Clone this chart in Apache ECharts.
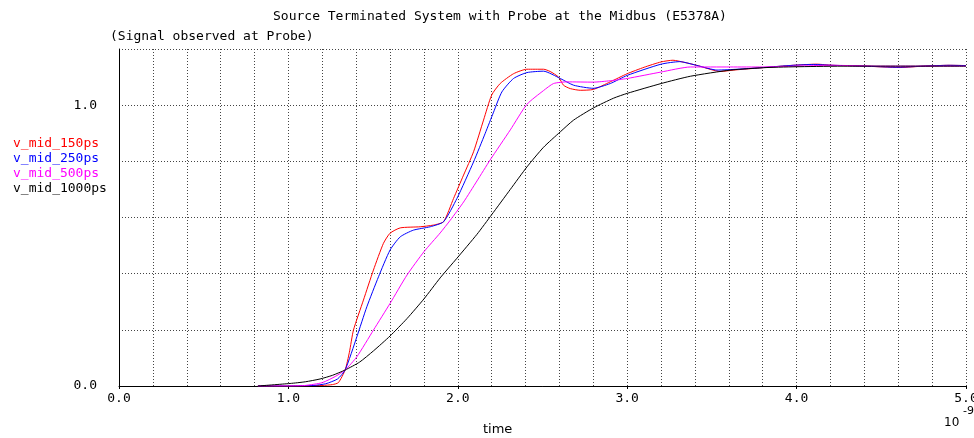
<!DOCTYPE html>
<html>
<head>
<meta charset="utf-8">
<script src="https://cdn.jsdelivr.net/npm/echarts@6/dist/echarts.min.js"></script>
<style>html,body{margin:0;padding:0;background:#fff}#c{width:974px;height:438px}</style>
</head>
<body>
<div id="c"></div>
<script>
// Data (time in ns, voltage)
var seriesNames = ['v_mid_150ps', 'v_mid_250ps', 'v_mid_500ps', 'v_mid_1000ps'];
var seriesColors = ['#ff0000', '#0000ff', '#ff00ff', '#000000'];

var t150 = [0.82,1.0,1.2,1.26,1.295,1.335,1.36,1.384,1.443,1.502,1.561,1.60,1.66,1.778,1.856,1.916,1.975,2.034,2.093,2.152,2.20,2.25,2.329,2.408,2.506,2.545,2.595,2.624,2.664,2.723,2.80,2.90,3.0,3.1,3.2,3.27,3.34,3.41,3.55,3.63,3.727,3.85,3.98,4.12,4.21,4.4,4.61,4.75,4.9,5.0];
var v150 = [0,0,0.002,0.005,0.012,0.057,0.12,0.199,0.306,0.413,0.508,0.544,0.563,0.567,0.573,0.585,0.668,0.751,0.834,0.947,1.036,1.077,1.112,1.128,1.128,1.12,1.10,1.071,1.059,1.053,1.056,1.083,1.112,1.135,1.154,1.16,1.152,1.142,1.12,1.125,1.13,1.136,1.142,1.146,1.142,1.139,1.134,1.139,1.142,1.141];

var t250 = [0.82,1.0,1.15,1.22,1.29,1.335,1.404,1.463,1.532,1.60,1.66,1.738,1.837,1.916,1.995,2.093,2.162,2.211,2.26,2.329,2.408,2.506,2.605,2.684,2.80,2.90,3.0,3.2,3.31,3.42,3.53,3.65,3.8,3.98,4.1,4.21,4.4,4.6,4.75,4.9,5.0];
var v250 = [0,0,0.002,0.008,0.025,0.057,0.175,0.282,0.389,0.484,0.531,0.555,0.567,0.585,0.668,0.798,0.90,0.975,1.047,1.095,1.116,1.121,1.095,1.071,1.06,1.077,1.106,1.146,1.155,1.14,1.125,1.128,1.134,1.142,1.145,1.142,1.139,1.135,1.139,1.142,1.141];

var t500 = [0.82,1.0,1.1,1.2,1.28,1.335,1.404,1.502,1.60,1.70,1.80,1.896,1.955,2.034,2.113,2.191,2.31,2.408,2.506,2.565,2.644,2.80,2.90,3.0,3.2,3.373,3.61,3.8,4.0,4.2,4.5,5.0];
var v500 = [0,0,0.002,0.012,0.035,0.057,0.104,0.199,0.294,0.395,0.478,0.545,0.59,0.655,0.73,0.805,0.912,1.003,1.052,1.077,1.083,1.082,1.087,1.095,1.118,1.136,1.136,1.136,1.139,1.142,1.139,1.139];

var t1000 = [0.82,1.01,1.1,1.187,1.26,1.335,1.42,1.502,1.60,1.70,1.80,1.896,1.995,2.113,2.20,2.31,2.408,2.506,2.605,2.684,2.80,2.92,3.0,3.2,3.373,3.61,3.825,4.02,4.3,5.0];
var v1000 = [0,0.009,0.015,0.025,0.038,0.057,0.085,0.125,0.178,0.24,0.31,0.385,0.455,0.54,0.61,0.70,0.78,0.85,0.905,0.947,0.99,1.025,1.042,1.077,1.103,1.125,1.134,1.137,1.139,1.139];

var times = [t150, t250, t500, t1000];
var values = [v150, v250, v500, v1000];

var MONO = '"DejaVu Sans Mono", "Liberation Mono", monospace';
var SANS = '"DejaVu Sans", sans-serif';
var gridLine = { color: '#444', type: [1, 2], width: 1 };

function pairs(t, v) { return t.map(function (x, i) { return [x, v[i]]; }); }

var chart = echarts.init(document.getElementById('c'), null, { renderer: 'canvas' });
chart.setOption({
  animation: false,
  backgroundColor: '#fff',
  title: [
    { text: 'Source Terminated System with Probe at the Midbus (E5378A)', left: 273, top: 10, padding: 0,
      textStyle: { fontFamily: MONO, fontSize: 13, fontWeight: 'normal', color: '#000' } },
    { text: '(Signal observed at Probe)', left: 110, top: 30, padding: 0,
      textStyle: { fontFamily: MONO, fontSize: 13, fontWeight: 'normal', color: '#000' } }
  ],
  legend: {
    orient: 'vertical', left: 7, top: 136, padding: 0, itemGap: 0, itemWidth: 0, itemHeight: 0,
    selectedMode: false,
    itemStyle: { opacity: 0 }, lineStyle: { opacity: 0 },
    data: seriesNames.map(function (n, i) {
      return { name: n, textStyle: { color: seriesColors[i], fontFamily: MONO, fontSize: 13, lineHeight: 15 } };
    })
  },
  grid: { left: 119, right: 8, top: 49, bottom: 52, containLabel: false, outerBoundsMode: 'none' },
  xAxis: {
    type: 'value', min: 0, max: 5, interval: 1,
    axisLine: { show: true, lineStyle: { color: '#000', width: 1 } },
    axisTick: { show: true, length: 3, lineStyle: { color: '#000' } },
    minorTick: { show: false, splitNumber: 5 },
    splitLine: { show: true, lineStyle: gridLine },
    minorSplitLine: { show: true, lineStyle: gridLine },
    axisLabel: { fontFamily: MONO, fontSize: 13, color: '#000', margin: 6, hideOverlap: false,
      formatter: function (v) { return v.toFixed(1); } }
  },
  yAxis: {
    type: 'value', min: 0, max: 1.2, interval: 0.2,
    axisLine: { show: true, lineStyle: { color: '#000', width: 1 } },
    axisTick: { show: false },
    splitLine: { show: true, lineStyle: gridLine },
    axisLabel: { fontFamily: MONO, fontSize: 13, color: '#000', margin: 22,
      formatter: function (v) {
        if (Math.abs(v) < 1e-6) return '0.0';
        if (Math.abs(v - 1) < 1e-6) return '1.0';
        return '';
      } }
  },
  graphic: [
    { type: 'text', left: 483, top: 423, style: { text: 'time', fontFamily: SANS, fontSize: 13, fill: '#000' } },
    { type: 'text', left: 944, top: 417, style: { text: '10', fontFamily: SANS, fontSize: 12, fill: '#000' } },
    { type: 'text', left: 963, top: 406, style: { text: '-9', fontFamily: SANS, fontSize: 11, fill: '#000' } }
  ],
  series: seriesNames.map(function (n, i) {
    return {
      name: n, type: 'line', showSymbol: false, smooth: 0.2,
      data: pairs(times[i], values[i]),
      lineStyle: { color: seriesColors[i], width: 1 },
      itemStyle: { color: seriesColors[i] }
    };
  })
});
</script>
</body>
</html>
